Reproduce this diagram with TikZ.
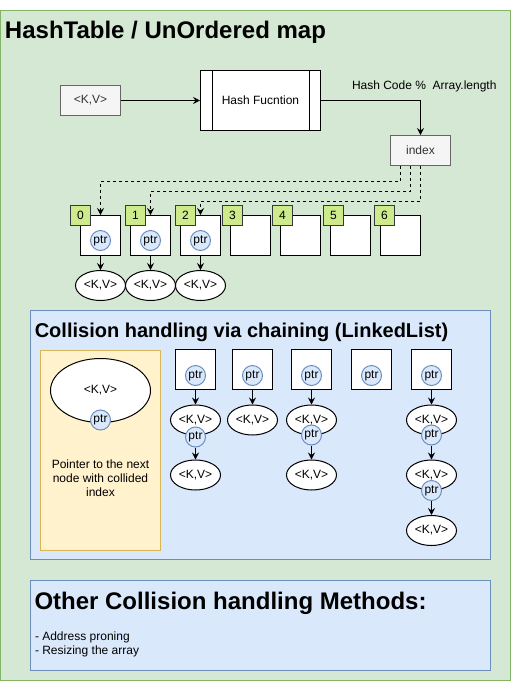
\documentclass[tikz,border=0pt]{standalone}
\usepackage{fontspec}
\setmainfont{Liberation Sans}
\usetikzlibrary{arrows.meta,shapes.geometric}
\definecolor{gfill}{HTML}{D5E8D4}
\definecolor{gline}{HTML}{82B366}
\definecolor{bfill}{HTML}{DAE8FC}
\definecolor{bline}{HTML}{6C8EBF}
\definecolor{yfill}{HTML}{FFF2CC}
\definecolor{yline}{HTML}{D6B656}
\definecolor{lfill}{HTML}{CDEB8B}
\definecolor{lline}{HTML}{36393D}
\definecolor{grfill}{HTML}{F5F5F5}
\definecolor{grline}{HTML}{666666}
\definecolor{grtext}{HTML}{333333}
\begin{document}
\begin{tikzpicture}[x=1pt,y=-1pt,line width=1pt,
  every node/.style={font=\fontsize{12}{14}\selectfont,inner sep=0pt},
  graybox/.style={draw=grline,fill=grfill,text=grtext,minimum width=60pt,minimum height=30pt},
  cellbox/.style={draw=black,fill=white,minimum width=40pt,minimum height=40pt},
  idxbox/.style={draw=lline,fill=lfill,minimum width=20pt,minimum height=20pt},
  ptrnode/.style={circle,draw=bline,fill=bfill,minimum size=20pt},
  kvnode/.style={ellipse,draw=black,fill=white,minimum width=50pt,minimum height=30pt},
  arr/.style={-{Stealth[length=7pt,width=7pt,inset=2.5pt]}},
  dash3/.style={dash pattern=on 3pt off 3pt},
  heading/.style={anchor=base west,font=\bfseries\fontsize{24}{28}\selectfont},
  plain/.style={anchor=base west},
]
\useasboundingbox (0,0) rectangle (511,681);
% outer container
\draw[draw=gline,fill=gfill] (0.5,10.5) rectangle (510,680.5);
\node[heading] (title) at (4.5,38) {HashTable / UnOrdered map};

% hash flow
\node[graybox] (kv) at (90.5,100.5) {<K,V>};
\node[draw=black,fill=white,minimum width=120pt,minimum height=60pt] (hf) at (260.5,100.5) {Hash Fucntion};
\draw ([xshift=12pt]hf.north west) -- ([xshift=12pt]hf.south west);
\draw ([xshift=-12pt]hf.north east) -- ([xshift=-12pt]hf.south east);
\node[graybox] (index) at (420.5,150.5) {index};
\draw[arr] (kv) -- (hf);
\draw[arr] (hf.east) -| (index.north);
\node[anchor=west] (hclabel) at (351.5,86) {Hash Code \%\ \ Array.length};

% array cells
\foreach \i in {0,...,6} {
  \node[cellbox] (c\i) at (100.5+50*\i,235.5) {};
}
\foreach \i/\lx in {0/80.5,1/135.5,2/185.5,3/232.5,4/282.5,5/333.5,6/384.5} {
  \node[idxbox] (l\i) at (\lx,215.5) {\i};
}
\foreach \i in {0,1,2} {
  \node[ptrnode] (p\i) at (100.5+50*\i,240.5) {ptr};
  \node[kvnode] (e\i) at (100.5+50*\i,285.5) {<K,V>};
  \draw[arr] (c\i.south) -- (e\i.north);
}
\draw[arr,dash3] ([xshift=-20pt]index.south) -- ++(0,15) -| (c0.north);
\draw[arr,dash3] ([xshift=-10pt]index.south) -- ++(0,25) -| (c1.north);
\draw[arr,dash3] (index.south) -- ++(0,35) -| (c2.north);

% chaining section
\draw[draw=bline,fill=bfill] (30.5,310.5) rectangle (490.5,559.5);
\node[anchor=base west,font=\bfseries\fontsize{20}{24}\selectfont] (chtitle) at (34.3,337) {Collision handling via chaining (LinkedList)};
\draw[draw=yline,fill=yfill] (40.5,350.5) rectangle (160.5,550.5);
\node[kvnode,minimum width=100pt,minimum height=64pt] (bigkv) at (100.5,390.5) {<K,V>};
\node[ptrnode] (bigptr) at (100.5,420) {ptr};
\node[align=center] (legend) at (100.5,478) {Pointer to the next\\node with collided\\index};

% column 1
\node[cellbox] (k1) at (195.5,369.5) {};
\node[ptrnode] (kp1) at (195.5,375.5) {ptr};
\node[kvnode] (k1a) at (195.5,420) {<K,V>};
\node[ptrnode] (k1p) at (195.5,437) {ptr};
\node[kvnode] (k1b) at (195.5,475) {<K,V>};
\draw[arr] (k1.south) -- (k1a.north);
\draw[arr] (k1p.south) -- (k1b.north);
% column 2
\node[cellbox] (k2) at (252.5,369.5) {};
\node[ptrnode] (kp2) at (252.5,375.5) {ptr};
\node[kvnode] (k2a) at (252.5,420) {<K,V>};
\draw[arr] (k2.south) -- (k2a.north);
% column 3
\node[cellbox] (k3) at (311.5,369.5) {};
\node[ptrnode] (kp3) at (311.5,375.5) {ptr};
\node[kvnode] (k3a) at (311.5,420) {<K,V>};
\node[ptrnode] (k3p) at (311.5,435) {ptr};
\node[kvnode] (k3b) at (311.5,475) {<K,V>};
\draw[arr] (k3.south) -- (k3a.north);
\draw[arr] (k3p.south) -- (k3b.north);
% column 4
\node[cellbox] (k4) at (371.5,369.5) {};
\node[ptrnode] (kp4) at (371.5,375.5) {ptr};
% column 5
\node[cellbox] (k5) at (431.5,369.5) {};
\node[ptrnode] (kp5) at (431.5,375.5) {ptr};
\node[kvnode] (k5a) at (431.5,420) {<K,V>};
\node[ptrnode] (k5p) at (431.5,435) {ptr};
\node[kvnode] (k5b) at (431.5,475) {<K,V>};
\node[ptrnode] (k5q) at (431.5,490.5) {ptr};
\node[kvnode] (k5c) at (431.5,530.5) {<K,V>};
\draw[arr] (k5.south) -- (k5a.north);
\draw[arr] (k5p.south) -- (k5b.north);
\draw[arr] (k5q.south) -- (k5c.north);

% other methods
\draw[draw=bline,fill=bfill] (30.5,580.5) rectangle (490.5,670.5);
\node[heading] (ottitle) at (34,609) {Other Collision handling Methods:};
\node[plain] (m1) at (34.5,640.5) {- Address proning};
\node[plain] (m2) at (34.5,654.5) {- Resizing the array};
\end{tikzpicture}
\end{document}
